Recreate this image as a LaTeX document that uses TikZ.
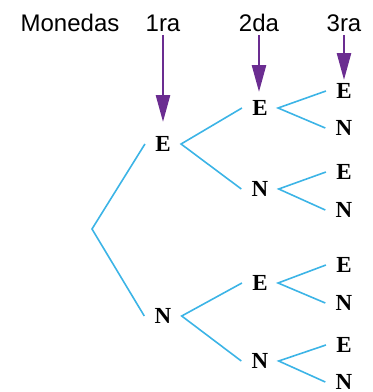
\documentclass[tikz,border=0pt]{standalone}
\usepackage{xcolor}
\usepackage{fontspec}
\setmainfont{Liberation Serif}
\newfontfamily\headfont{Liberation Sans}
\usepackage{tikz}
\usetikzlibrary{arrows.meta,positioning,calc}
\definecolor{treeblue}{HTML}{3CB4E6}
\definecolor{arrowpurple}{HTML}{6B2D91}

\begin{document}
\begin{tikzpicture}[x=0.5pt, y=-0.5pt,
  coin/.style={font=\fontsize{11.5}{13}\selectfont\bfseries, inner xsep=5pt, inner ysep=1pt},
  branch/.style={treeblue, line width=0.8pt},
  header/.style={font=\headfont\fontsize{12}{14}\selectfont, inner sep=1.5pt},
  pointer/.style={arrowpurple, line width=1.3pt, -{Triangle[length=13.5pt, width=7pt]}}]
\useasboundingbox (0,0) rectangle (372,392);
% column headings and arrows
\node[header] (mon) at (70,23) {Monedas};
\node[header] (h1) at (163,23) {1ra};
\node[header] (h2) at (259,23) {2da};
\node[header] (h3) at (344,23) {3ra};
\coordinate (t1) at (163,122);
\coordinate (t2) at (259,92);
\coordinate (t3) at (344,80);
\draw[pointer] (h1.south) -- (t1);
\draw[pointer] (h2.south) -- (t2);
\draw[pointer] (h3.south) -- (t3);
% first coin
\coordinate (root) at (92,229);
\node[coin] (e) at (163,144) {E};
\node[coin] (n) at (163,316) {N};
% second coin
\node[coin] (ee) at (260,108) {E};
\node[coin] (en) at (260,189) {N};
\node[coin] (ne) at (260,283) {E};
\node[coin] (nn) at (260,361) {N};
% third coin
\node[coin] (eee) at (344,91) {E};
\node[coin] (een) at (344,128) {N};
\node[coin] (ene) at (344,172) {E};
\node[coin] (enn) at (344,210) {N};
\node[coin] (nee) at (344,265) {E};
\node[coin] (nen) at (344,303) {N};
\node[coin] (nne) at (344,345) {E};
\node[coin] (nnn) at (344,382) {N};
% branches
\draw[branch] (e.west) -- (root) -- (n.west);
\draw[branch] (ee.west) -- (e.east) -- (en.west);
\draw[branch] (ne.west) -- (n.east) -- (nn.west);
\draw[branch] (eee.west) -- (ee.east) -- (een.west);
\draw[branch] (ene.west) -- (en.east) -- (enn.west);
\draw[branch] (nee.west) -- (ne.east) -- (nen.west);
\draw[branch] (nne.west) -- (nn.east) -- (nnn.west);
\end{tikzpicture}
\end{document}
